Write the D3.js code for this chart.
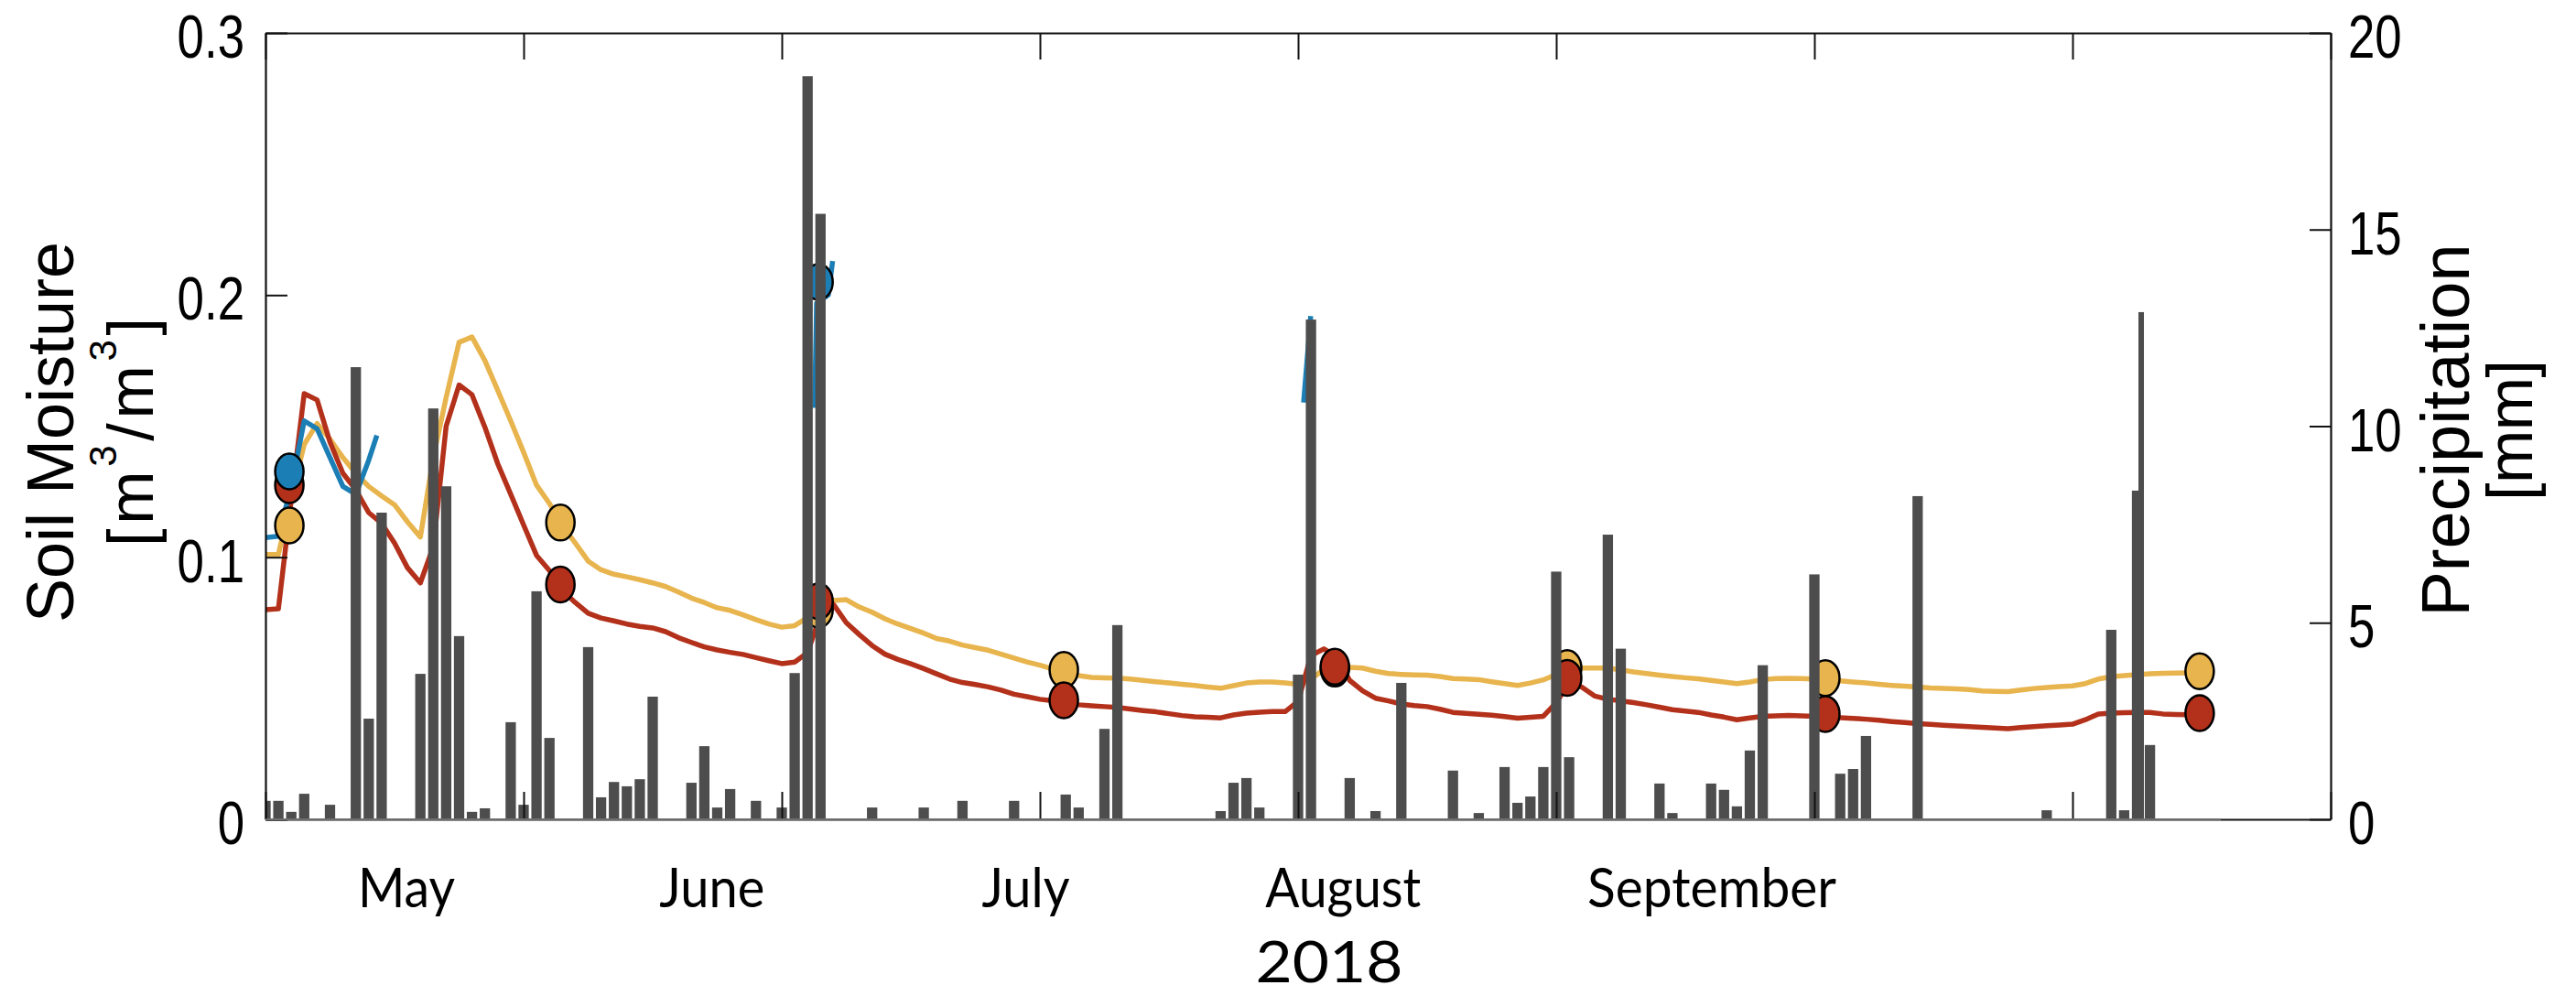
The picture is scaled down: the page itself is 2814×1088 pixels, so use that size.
<!DOCTYPE html>
<html>
<head>
<meta charset="utf-8">
<script src="https://cdn.jsdelivr.net/npm/d3@7"></script>
<style>
  body { margin: 0; background: #fff; }
  svg { display: block; }
</style>
</head>
<body>
<div id="chart"></div>
<script>
// days since start of record (0 = first day shown)
const precip = [0.47, 0.47, 0.19, 0.65, 0, 0.37, 0, 11.5, 2.56, 7.8,
  0, 0, 3.7, 10.45, 8.47, 4.66, 0.19, 0.28, 0, 2.47,
  0.37, 5.8, 2.07, 0, 0, 4.38, 0.56, 0.95, 0.84, 1.02,
  3.12, 0, 0, 0.93, 1.86, 0.3, 0.77, 0, 0.47, 0,
  0.3, 3.72, 18.9, 15.4, 0, 0, 0, 0.3, 0, 0,
  0, 0.3, 0, 0, 0.47, 0, 0, 0, 0.47, 0,
  0, 0, 0.63, 0.3, 0, 2.3, 4.94, 0, 0, 0,
  0, 0, 0, 0, 0.21, 0.93, 1.05, 0.3, 0, 0,
  3.68, 12.71, 0, 0, 1.05, 0, 0.21, 0, 3.47, 0,
  0, 0, 1.24, 0, 0.16, 0, 1.33, 0.42, 0.58, 1.33,
  6.3, 1.58, 0, 0, 7.24, 4.34, 0, 0, 0.91, 0.16,
  0, 0, 0.91, 0.75, 0.33, 1.75, 3.92, 0, 0, 0,
  6.23, 0, 1.16, 1.28, 2.12, 0, 0, 0, 8.22, 0,
  0, 0, 0, 0, 0, 0, 0, 0, 0.23, 0,
  0, 0, 0, 4.82, 0.23, 8.36, 1.89, 0, 0, 0,
  0, 0];

// second gauge reading that sticks out behind one bar
const precipExtraDays = [145.32];
const precipExtraValues = [12.9];

const smOrange = [0.101, 0.101, 0.123, 0.143, 0.151, 0.145, 0.138, 0.132, 0.127, 0.1234,
  0.120, 0.1135, 0.1077, 0.138, 0.161, 0.182, 0.184, 0.175, 0.1636, 0.152,
  0.140, 0.1275, 0.1205, 0.112, 0.1054, 0.0985, 0.0952, 0.0935, 0.0925, 0.0914,
  0.0902, 0.0888, 0.0867, 0.0844, 0.0827, 0.0807, 0.0797, 0.078, 0.0762, 0.0745,
  0.0733, 0.0739, 0.077, 0.083, 0.0835, 0.0838, 0.081, 0.079, 0.0765, 0.0745,
  0.0728, 0.071, 0.069, 0.068, 0.0665, 0.0655, 0.0645, 0.063, 0.0615, 0.060,
  0.0588, 0.0573, 0.0562, 0.0548, 0.0541, 0.054, 0.0539, 0.0535, 0.053, 0.0525,
  0.052, 0.0515, 0.0511, 0.0505, 0.050, 0.051, 0.052, 0.0524, 0.0524, 0.052,
  0.0515, 0.0535, 0.0572, 0.0578, 0.058, 0.0577, 0.0565, 0.0556, 0.0553, 0.0551,
  0.055, 0.0545, 0.0537, 0.0535, 0.0533, 0.0525, 0.0518, 0.0511, 0.052, 0.0532,
  0.0553, 0.0565, 0.0577, 0.0577, 0.0577, 0.057, 0.0562, 0.0556, 0.055, 0.0545,
  0.054, 0.0536, 0.053, 0.0524, 0.0518, 0.0524, 0.0533, 0.0537, 0.0538, 0.0537,
  0.0535, 0.0532, 0.0528, 0.0524, 0.052, 0.0515, 0.0511, 0.0508, 0.0505, 0.0501,
  0.0499, 0.0498, 0.0495, 0.049, 0.0488, 0.0487, 0.0493, 0.0499, 0.0503, 0.0506,
  0.0509, 0.0518, 0.0535, 0.0544, 0.0548, 0.0552, 0.0555, 0.0557, 0.0558, 0.0559,
  0.0559, 0.0559];

const smRed = [0.080, 0.0803, 0.122, 0.1624, 0.160, 0.1439, 0.132, 0.1257, 0.117, 0.1129,
  0.1054, 0.096, 0.0902, 0.104, 0.150, 0.1657, 0.162, 0.1496, 0.1356, 0.124,
  0.1123, 0.1007, 0.0949, 0.0873, 0.0827, 0.0786, 0.0768, 0.0757, 0.0745, 0.0736,
  0.073, 0.0716, 0.0693, 0.0675, 0.0658, 0.0646, 0.0637, 0.0629, 0.0617, 0.0605,
  0.0594, 0.060, 0.0636, 0.078, 0.082, 0.075, 0.0705, 0.0663, 0.063, 0.061,
  0.0593, 0.0575, 0.0555, 0.0535, 0.0522, 0.0514, 0.0505, 0.0493, 0.0477, 0.0468,
  0.0458, 0.0452, 0.0446, 0.0437, 0.0433, 0.043, 0.0427, 0.0421, 0.0415, 0.041,
  0.0403, 0.0396, 0.0391, 0.0389, 0.0387, 0.0398, 0.0405, 0.0409, 0.0411, 0.0411,
  0.045, 0.0625, 0.065, 0.062, 0.053, 0.049, 0.0462, 0.0452, 0.044, 0.0434,
  0.043, 0.042, 0.0408, 0.0404, 0.0401, 0.0397, 0.0392, 0.0386, 0.0389, 0.0393,
  0.0445, 0.052, 0.0504, 0.047, 0.0458, 0.0452, 0.0445, 0.0437, 0.0428, 0.0418,
  0.0413, 0.0408, 0.0398, 0.039, 0.038, 0.0387, 0.0393, 0.0395, 0.0396, 0.0395,
  0.0393, 0.0391, 0.0388, 0.0385, 0.0382, 0.0378, 0.0373, 0.0369, 0.0365, 0.0362,
  0.0359, 0.0356, 0.0354, 0.0351, 0.0348, 0.0346, 0.035, 0.0354, 0.0357, 0.036,
  0.0363, 0.038, 0.0402, 0.0405, 0.0407, 0.0408, 0.0408, 0.0402, 0.04, 0.0399,
  0.0399, 0.0399];

// blue sensor is patchy, null = gap
const blueDays   = [0, 1, 2, 3, 4, 5, 6, 7, 8, 8.63, null, 42.55, 42.7, 43.6, 43.94, null, 80.43, 80.98];
const blueValues = [0.1075, 0.108, 0.127, 0.152, 0.149, 0.138, 0.127, 0.124, 0.137, 0.1465, null,
  0.157, 0.197, 0.2, 0.213, null, 0.159, 0.192];

// sampling campaigns
const markerDays    = [1.85, 22.85, 42.85, 61.85, 82.85, 100.85, 120.85, 149.85];
const orangeMarkers = [0.1121, 0.1132, 0.080, 0.057, 0.0575, 0.0577, 0.0539, 0.0565];
const redMarkers    = [0.1275, 0.0896, 0.0832, 0.0454, 0.0582, 0.054, 0.0402, 0.0405];
const blueMarkers   = [0.1327, null, 0.205, null, null, null, null, null];

const smTicks = [0, 0.1, 0.2, 0.3];
const precipTicks = [0, 5, 10, 15, 20];
const dayTicks = [0, 20, 40, 60, 80, 100, 120, 140, 160];
const monthLabels = ["May", "June", "July", "August", "September"];
const monthLabelDays = [10.92, 34.6, 58.9, 83.5, 112.06];
const yearLabel = "2018";

const W = 2814, H = 1088;
const margin = { top: 36, right: 268, bottom: 193, left: 290 };
const monthWidths = [106, 115, 96, 170, 272];

const col = { blue: "#1b7fb6", orange: "#e8b44d", red: "#b3311b", bar: "#4d4d4d" };

const x = d3.scaleLinear().domain([0, 160]).range([margin.left, W - margin.right]);
const ySM = d3.scaleLinear().domain([0, 0.3]).range([H - margin.bottom, margin.top]);
const yP = d3.scaleLinear().domain([0, 20]).range([H - margin.bottom, margin.top]);

const svg = d3.select("#chart").append("svg")
  .attr("width", W)
  .attr("height", H);

svg.append("clipPath").attr("id", "plotclip").append("rect")
  .attr("x", margin.left).attr("y", margin.top)
  .attr("width", W - margin.left - margin.right)
  .attr("height", H - margin.top - margin.bottom);

const plot = svg.append("g").attr("clip-path", "url(#plotclip)");

const line = d3.line()
  .defined(d => d[1] != null)
  .x(d => x(d[0]))
  .y(d => ySM(d[1]));

function drawLine(pts, c) {
  plot.append("path")
    .datum(pts)
    .attr("d", line)
    .attr("fill", "none")
    .attr("stroke", c)
    .attr("stroke-width", 5.5)
    .attr("stroke-linejoin", "round");
}

drawLine(smOrange.map((v, i) => [i, v]), col.orange);
drawLine(smRed.map((v, i) => [i, v]), col.red);
drawLine(blueDays.map((d, i) => [d, blueValues[i]]), col.blue);

function drawMarkers(vals, c) {
  plot.selectAll(null)
    .data(markerDays.map((d, i) => [d, vals[i]]).filter(d => d[1] != null))
    .enter()
    .append("ellipse")
    .attr("cx", d => x(d[0]))
    .attr("cy", d => ySM(d[1]))
    .attr("rx", 15.5)
    .attr("ry", 19.5)
    .attr("fill", c)
    .attr("stroke", "#000")
    .attr("stroke-width", 2.5);
}
drawMarkers(orangeMarkers, col.orange);
drawMarkers(redMarkers, col.red);
drawMarkers(blueMarkers, col.blue);

// bars go on top (right axis)
const bw = (x(1) - x(0)) * 0.8;
plot.selectAll(".xbar")
  .data(precipExtraDays.map((d, i) => [d, precipExtraValues[i]]))
  .enter()
  .append("rect")
  .attr("class", "xbar")
  .attr("x", d => x(d[0]) - 3)
  .attr("width", 6)
  .attr("y", d => yP(d[1]))
  .attr("height", d => yP(0) - yP(d[1]))
  .attr("fill", col.bar);

plot.selectAll(".bar")
  .data(precip.map((v, i) => [i, v]).filter(d => d[1] > 0))
  .enter()
  .append("rect")
  .attr("class", "bar")
  .attr("x", d => x(d[0]) - bw / 2)
  .attr("width", bw)
  .attr("y", d => yP(d[1]))
  .attr("height", d => yP(0) - yP(d[1]))
  .attr("fill", col.bar);

// axes, ticks pointing inward
function styleAxis(g) {
  g.select(".domain").attr("stroke", "#111").attr("stroke-width", 2.2);
  g.selectAll(".tick line").attr("stroke", "#111").attr("stroke-width", 2);
  g.selectAll(".tick text").remove();
}

svg.append("g")
  .attr("transform", `translate(0,${H - margin.bottom})`)
  .call(d3.axisBottom(x).tickValues(dayTicks).tickSizeInner(-30).tickSizeOuter(0).tickFormat(""))
  .call(styleAxis);

svg.append("g")
  .attr("transform", `translate(0,${margin.top})`)
  .call(d3.axisTop(x).tickValues(dayTicks).tickSizeInner(-29).tickSizeOuter(0).tickFormat(""))
  .call(styleAxis);

svg.append("g")
  .attr("transform", `translate(${margin.left},0)`)
  .call(d3.axisLeft(ySM).tickValues(smTicks).tickSizeInner(-24).tickSizeOuter(0).tickFormat(""))
  .call(styleAxis);

svg.append("g")
  .attr("transform", `translate(${W - margin.right},0)`)
  .call(d3.axisRight(yP).tickValues(precipTicks).tickSizeInner(-23).tickSizeOuter(0).tickFormat(""))
  .call(styleAxis);

// bar baseline
svg.append("line")
  .attr("x1", x(0)).attr("x2", x(precip.length - 0.5))
  .attr("y1", yP(0)).attr("y2", yP(0))
  .attr("stroke", "#6e6e6e").attr("stroke-width", 2.2);

const sans = "'Liberation Sans', Arial, sans-serif";

svg.selectAll(".smlab")
  .data(smTicks)
  .enter()
  .append("text")
  .attr("transform", d => `translate(${margin.left - 23},${ySM(d) + 27}) scale(0.8,1)`)
  .attr("text-anchor", "end")
  .style("font-family", sans)
  .style("font-size", "66px")
  .text(d => String(d));

svg.selectAll(".plab")
  .data(precipTicks)
  .enter()
  .append("text")
  .attr("transform", d => `translate(${W - margin.right + 19},${yP(d) + 27}) scale(0.8,1)`)
  .attr("text-anchor", "start")
  .style("font-family", sans)
  .style("font-size", "66px")
  .text(d => String(d));

svg.selectAll(".mlab")
  .data(monthLabels)
  .enter()
  .append("text")
  .attr("x", (d, i) => x(monthLabelDays[i]))
  .attr("y", 991)
  .attr("text-anchor", "middle")
  .attr("textLength", (d, i) => monthWidths[i])
  .attr("lengthAdjust", "spacingAndGlyphs")
  .style("font-family", "Lato, 'Open Sans', sans-serif")
  .style("font-size", "60px")
  .text(d => d);

svg.append("text")
  .attr("x", (x.range()[0] + x.range()[1]) / 2 + 34)
  .attr("y", 1073)
  .attr("text-anchor", "middle")
  .attr("textLength", 161)
  .attr("lengthAdjust", "spacingAndGlyphs")
  .style("font-family", "Lato, 'Open Sans', sans-serif")
  .style("font-size", "62px")
  .text(yearLabel);

// left label
svg.append("text")
  .attr("transform", "translate(80,472) rotate(-90)")
  .attr("text-anchor", "middle")
  .style("font-family", sans)
  .style("font-size", "72px")
  .text("Soil Moisture");

const unitL = svg.append("text")
  .attr("transform", "translate(167,472) rotate(-90)")
  .attr("text-anchor", "middle")
  .attr("textLength", 250)
  .attr("lengthAdjust", "spacing")
  .style("font-family", sans)
  .style("font-size", "70px");
unitL.append("tspan").text("[m");
unitL.append("tspan").attr("dy", -40).style("font-size", "42px").text("3");
unitL.append("tspan").attr("dy", 40).text("/m");
unitL.append("tspan").attr("dy", -40).style("font-size", "42px").text("3");
unitL.append("tspan").attr("dy", 40).text("]");

// right label
svg.append("text")
  .attr("transform", "translate(2697,470) rotate(-90)")
  .attr("text-anchor", "middle")
  .style("font-family", sans)
  .style("font-size", "74px")
  .text("Precipitation");

svg.append("text")
  .attr("transform", "translate(2766,470) rotate(-90)")
  .attr("text-anchor", "middle")
  .attr("textLength", 154)
  .attr("lengthAdjust", "spacing")
  .style("font-family", sans)
  .style("font-size", "70px")
  .text("[mm]");
</script>
</body>
</html>
